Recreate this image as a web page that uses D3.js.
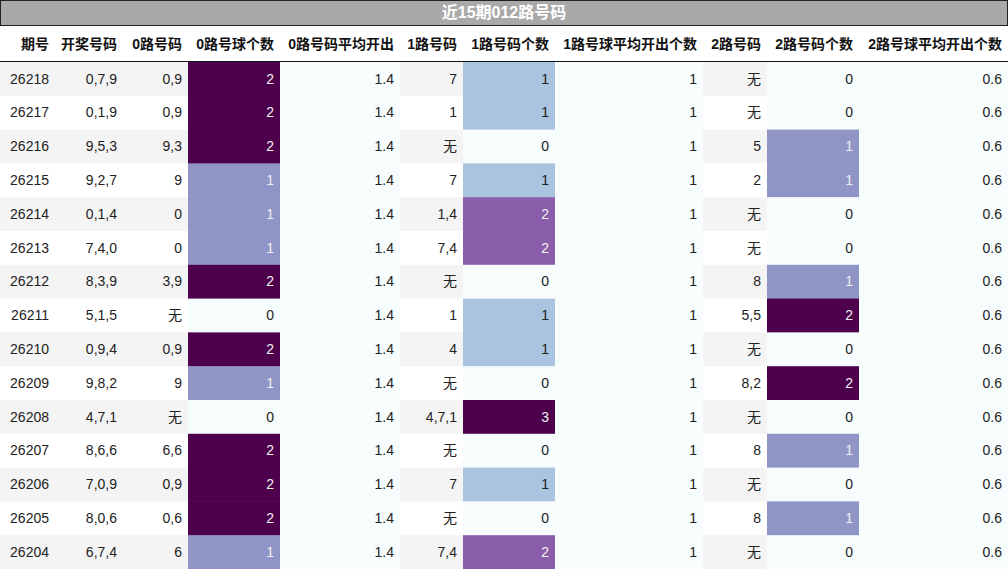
<!DOCTYPE html>
<html><head><meta charset="utf-8">
<script src="https://cdn.jsdelivr.net/npm/d3@7"></script>
<style>body{margin:0;background:#fff;font-family:"Liberation Sans","Noto Sans CJK SC",sans-serif}</style>
</head><body><svg id="c" width="1008" height="569"></svg>
<script>
const title = "近15期012路号码";
const columns = ["期号","开奖号码","0路号码","0路号球个数","0路号码平均开出","1路号码","1路号码个数","1路号球平均开出个数","2路号码","2路号码个数","2路号球平均开出个数"];
const periods = ["26218","26217","26216","26215","26214","26213","26212","26211","26210","26209","26208","26207","26206","26205","26204"];
const draws = ["0,7,9","0,1,9","9,5,3","9,2,7","0,1,4","7,4,0","8,3,9","5,1,5","0,9,4","9,8,2","4,7,1","8,6,6","7,0,9","8,0,6","6,7,4"];
const road0 = ["0,9","0,9","9,3","9","0","0","3,9","无","0,9","9","无","6,6","0,9","0,6","6"];
const count0 = [2,2,2,1,1,1,2,0,2,1,0,2,2,2,1];
const avg0 = 1.4;
const road1 = ["7","1","无","7","1,4","7,4","无","1","4","无","4,7,1","无","7","无","7,4"];
const count1 = [1,1,0,1,2,2,0,1,1,0,3,0,1,0,2];
const avg1 = 1;
const road2 = ["无","无","5","2","无","无","8","5,5","无","8,2","无","8","无","8","无"];
const count2 = [0,0,1,1,0,0,1,2,0,2,0,1,0,1,0];
const avg2 = 0.6;

const W=1008, H=569, titleH=26, headH=36;
const colEdges=[0,55,123,188,280,400,463,555,703,767,859,1008];
const svg=d3.select("#c");
const y=d3.scaleBand().domain(d3.range(periods.length)).range([headH+titleH,H]);
const cols=[
 {v:periods,type:"stripe"},{v:draws,type:"stripe"},{v:road0,type:"stripe"},
 {v:count0,type:"heat"},{v:count0.map(()=>avg0),type:"avg"},
 {v:road1,type:"stripe"},{v:count1,type:"heat"},{v:count1.map(()=>avg1),type:"avg"},
 {v:road2,type:"stripe"},{v:count2,type:"heat"},{v:count2.map(()=>avg2),type:"avg"}];
// title
svg.append("rect").attr("x",0.5).attr("y",0.5).attr("width",W-1).attr("height",titleH-1).attr("fill","#a9a9a9").attr("stroke","#222");
svg.append("text").attr("x",W/2).attr("y",titleH/2+1).attr("text-anchor","middle").attr("dominant-baseline","middle")
 .attr("fill","#fff").attr("font-weight","bold").attr("font-size",16).text(title);
// header
columns.forEach((c,i)=>svg.append("text").attr("x",colEdges[i+1]-6).attr("y",titleH+headH/2+1).attr("text-anchor","end")
 .attr("dominant-baseline","middle").attr("font-weight","bold").attr("font-size",14).attr("fill","#111").text(c));
svg.append("line").attr("x1",0).attr("x2",W).attr("y1",titleH+headH-0.5).attr("y2",titleH+headH-0.5).attr("stroke","#111");
cols.forEach((col,ci)=>{
 const max=d3.max(col.v.map(Number).filter(v=>!isNaN(v)));
 col.v.forEach((v,ri)=>{
  let fill, tc="#222";
  if(col.type==="stripe") fill= ri%2===0?"#f4f4f4":"#fff";
  else if(col.type==="avg") fill="#f7fcfd";
  else { fill=d3.interpolateBuPu(max?v/max:0); const L=d3.hsl(fill).l; tc= (v>0 && (v/max)>=0.5)?"#f0f0f0":"#222"; }
  svg.append("rect").attr("x",colEdges[ci]).attr("y",y(ri)).attr("width",colEdges[ci+1]-colEdges[ci]).attr("height",y.bandwidth()+0.5).attr("fill",fill);
  svg.append("text").attr("x",colEdges[ci+1]-6).attr("y",y(ri)+y.bandwidth()/2+1).attr("text-anchor","end").attr("dominant-baseline","middle")
   .attr("font-size",14).attr("fill",tc).text(v);
 });
});
svg.append("line").attr("x1",0).attr("x2",W).attr("y1",titleH+headH-0.5).attr("y2",titleH+headH-0.5).attr("stroke","#111");
</script></body></html>
